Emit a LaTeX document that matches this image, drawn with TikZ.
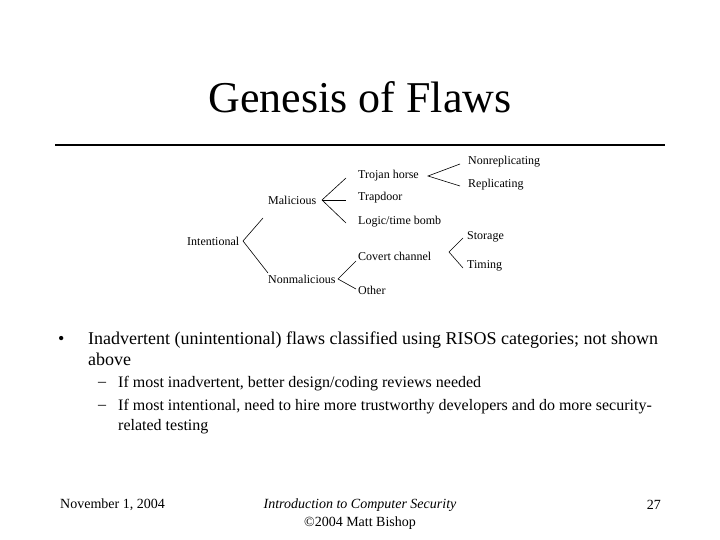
\documentclass[tikz,border=0pt]{standalone}
\usepackage{fontspec}
\setmainfont{Liberation Serif}
\begin{document}
\begin{tikzpicture}[x=1pt,y=-1pt,
  lab/.style={font=\fontsize{12}{14}\selectfont,inner sep=0pt,anchor=west},
  br/.style={line width=0.6pt},
  txt/.style={inner sep=0pt,anchor=west}]
\useasboundingbox[fill=white] (0,0) rectangle (720,540);
\node[inner sep=0pt,font=\fontsize{44}{48}\selectfont] (title) at (360,97) {Genesis of Flaws};
\draw[line width=2.5pt] (55,145) -- (665,145);
% tree
\node[lab] (int) at (187,241) {Intentional};
\node[lab] (mal) at (268,200) {Malicious};
\node[lab] (non) at (268,279) {Nonmalicious};
\node[lab] (tro) at (358,176) {Trojan horse};
\node[lab] (tra) at (358,198) {Trapdoor};
\node[lab] (log) at (358,222) {Logic/time bomb};
\node[lab] (cov) at (358,256) {Covert channel};
\node[lab] (oth) at (358,290) {Other};
\node[lab] (nre) at (468,162) {Nonreplicating};
\node[lab] (rep) at (468,185) {Replicating};
\node[lab] (sto) at (467,237) {Storage};
\node[lab] (tim) at (467,266) {Timing};
\coordinate (f1) at (243,241);
\coordinate (f2) at (322,200);
\coordinate (f3) at (428,176);
\coordinate (f4) at (338,279);
\coordinate (f5) at (449,252);
\draw[br] (263,218) -- (f1) -- (268,273);
\draw[br] (346,178) -- (f2) -- (346,223); \draw[br] (f2) -- (346,200);
\draw[br] (460,164) -- (f3) -- (460,186);
\draw[br] (356,261) -- (f4) -- (356,289);
\draw[br] (463,238) -- (f5) -- (463,268);
% bullets
\node[txt,font=\fontsize{18}{20}\selectfont] (b1) at (58,340) {\textbullet};
\node[txt,font=\fontsize{18}{20}\selectfont] (t1) at (88,340) {Inadvertent (unintentional) flaws classified using RISOS categories; not shown};
\node[txt,font=\fontsize{18}{20}\selectfont] (t2) at (88,359) {above};
\node[txt,font=\fontsize{16}{18}\selectfont] (d1) at (98,384) {\textendash};
\node[txt,font=\fontsize{16}{18}\selectfont] (s1) at (118,384) {If most inadvertent, better design/coding reviews needed};
\node[txt,font=\fontsize{16}{18}\selectfont] (d2) at (98,407) {\textendash};
\node[txt,font=\fontsize{16}{18}\selectfont] (s2) at (118,407) {If most intentional, need to hire more trustworthy developers and do more security-};
\node[txt,font=\fontsize{16}{18}\selectfont] (s3) at (118,427) {related testing};
% footer
\node[txt,font=\fontsize{14}{16}\selectfont] (date) at (60,505) {November 1, 2004};
\node[inner sep=0pt,font=\fontsize{14}{16}\selectfont\itshape] (course) at (360,505) {Introduction to Computer Security};
\node[inner sep=0pt,font=\fontsize{14}{16}\selectfont] (copy) at (360,523) {\char"00A9 2004 Matt Bishop};
\node[inner sep=0pt,anchor=east,font=\fontsize{14}{16}\selectfont] (page) at (661,505) {27};
\end{tikzpicture}
\end{document}
